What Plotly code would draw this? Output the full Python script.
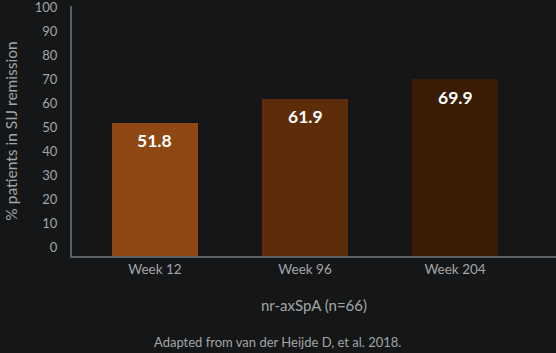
import plotly.graph_objects as go

categories = ["Week 12", "Week 96", "Week 204"]
values = [51.8, 61.9, 69.9]
bar_colors = ["#8f4713", "#5d2c08", "#391b06"]
y_ticks = list(range(0, 101, 10))

Y_MIN = -3.6
Y_MAX = 100.5
FONT = "Lato"
BG = "#141617"
GREY = "#a3a5a6"

fig = go.Figure()
fig.add_trace(go.Bar(
    x=categories,
    y=[v - Y_MIN for v in values],
    base=Y_MIN,
    marker=dict(color=bar_colors, line=dict(width=0)),
    width=0.573,
    hoverinfo="skip",
))

for c, v in zip(categories, values):
    fig.add_annotation(
        x=c, y=v, text=f"<b>{v:.1f}</b>", showarrow=False,
        yshift=-18, font=dict(family=FONT, size=17.5, color="#ffffff"),
    )

fig.add_annotation(
    xref="paper", yref="paper", x=(277 - 72) / 484, y=-0.345,
    yanchor="middle", xanchor="center", showarrow=False,
    text="Adapted from van der Heijde D, et al. 2018.",
    font=dict(family=FONT, size=13, color=GREY),
)

fig.update_layout(
    width=556, height=353,
    margin=dict(l=72, r=0, t=6, b=97),
    paper_bgcolor=BG, plot_bgcolor=BG,
    showlegend=False,
    bargap=0,
    xaxis=dict(
        range=[-0.553, 2.673],
        showgrid=False, zeroline=False,
        showline=True, linecolor="#5c6163", linewidth=2,
        ticks="", tickfont=dict(family=FONT, size=13.5, color=GREY),
        title=dict(text="nr-axSpA (n=66)", font=dict(family=FONT, size=15, color=GREY), standoff=24),
    ),
    yaxis=dict(
        range=[Y_MIN, Y_MAX],
        tickvals=y_ticks,
        showgrid=False, zeroline=False,
        showline=True, linecolor="#5c6163", linewidth=2,
        ticks="", ticklabelstandoff=10, ticklabeloverflow="allow",
        tickfont=dict(family=FONT, size=13, color=GREY),
        title=dict(text="% patients in SIJ remission", font=dict(family=FONT, size=15.5, color=GREY), standoff=13),
    ),
)

fig.write_html("out.html")
